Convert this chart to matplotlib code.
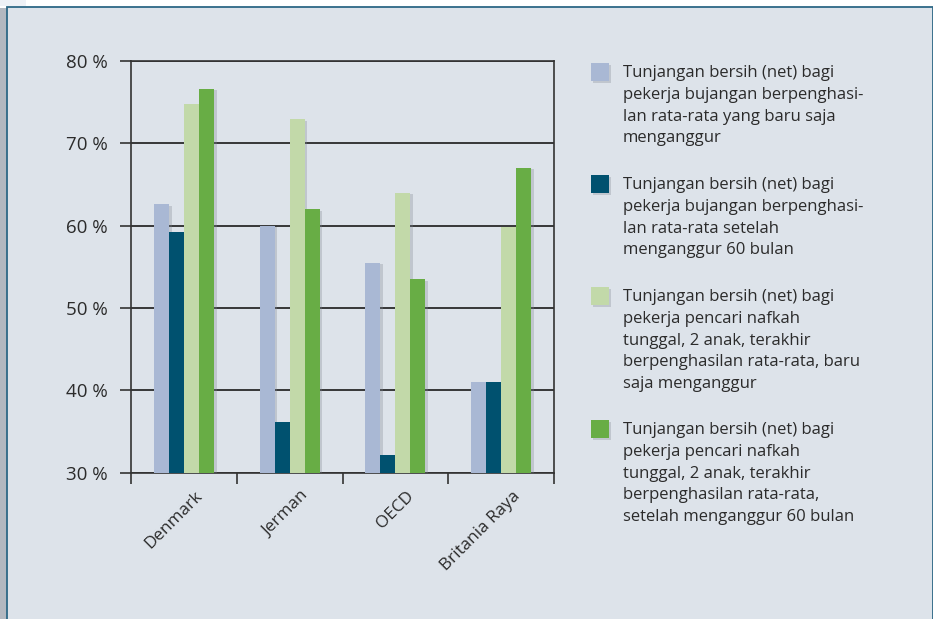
import matplotlib.pyplot as plt
import matplotlib.patches as mpatches
import matplotlib.patheffects as pe
import matplotlib.transforms as mtransforms
import numpy as np

plt.rcParams['font.family'] = ['Open Sans', 'DejaVu Sans']

# data
countries = ['Denmark', 'Jerman', 'OECD', 'Britania Raya']
single_new = [62.6, 60.0, 55.5, 41.0]
single_60 = [59.2, 36.2, 32.1, 41.0]
parent_new = [74.8, 72.9, 64.0, 59.9]
parent_60 = [76.6, 62.0, 53.5, 67.0]

series = [single_new, single_60, parent_new, parent_60]
colors = ['#a9b8d4', '#00516f', '#c2d9a9', '#68ad45']
labels = [
    'Tunjangan bersih (net) bagi\npekerja bujangan berpenghasi-\nlan rata-rata yang baru saja\nmenganggur',
    'Tunjangan bersih (net) bagi\npekerja bujangan berpenghasi-\nlan rata-rata setelah\nmenganggur 60 bulan',
    'Tunjangan bersih (net) bagi\npekerja pencari nafkah\ntunggal, 2 anak, terakhir\nberpenghasilan rata-rata, baru\nsaja menganggur',
    'Tunjangan bersih (net) bagi\npekerja pencari nafkah\ntunggal, 2 anak, terakhir\nberpenghasilan rata-rata,\nsetelah menganggur 60 bulan',
]
yticks = [30, 40, 50, 60, 70, 80]

W, H = 933, 619
fig = plt.figure(figsize=(W / 100, H / 100), dpi=100)
fig.patch.set_facecolor('white')

# panel background + left shadow
fig.patches.append(mpatches.Rectangle((0, 0), 7 / W, (H - 8) / H, transform=fig.transFigure,
                                      facecolor='#b3b8c0', edgecolor='none', zorder=0))
fig.patches.append(mpatches.Rectangle((0, (H - 6) / H), 26 / W, 6 / H, transform=fig.transFigure,
                                      facecolor='#eef1f6', edgecolor='none', zorder=0))
fig.patches.append(mpatches.Rectangle((7.5 / W, -0.01), 1 - 8 / W, (H - 6.5) / H + 0.01,
                                      transform=fig.transFigure, facecolor='#dde3ea',
                                      edgecolor='#2d6886', linewidth=1.3, zorder=0))

ax = fig.add_axes([131 / W, 146.3 / H, 423 / W, 411.7 / H])
ax.set_facecolor('none')
ax.set_zorder(2)

x = np.arange(len(countries))
bw = 0.142
shadow = [pe.SimplePatchShadow(offset=(2, -1), shadow_rgbFace='#7d8590', alpha=0.3), pe.Normal()]
for i, (vals, c) in enumerate(zip(series, colors)):
    bars = ax.bar(x + (i - 1.5) * bw, np.array(vals) - 30, bw, bottom=30, color=c, zorder=3 + i * 0.01)
    for b in bars:
        b.set_path_effects(shadow)

ax.set_xlim(-0.5, len(countries) - 0.5)
ax.set_ylim(30, 80)
ax.set_yticks(yticks)
ax.set_yticklabels([f'{v} %' for v in yticks], fontsize=13.5, color='#2b2b2b')
ax.yaxis.grid(True, color='#1a1a1a', linewidth=1.2, zorder=1)
ax.set_axisbelow(True)
ax.tick_params(axis='y', length=8, width=1.2, color='#333333', pad=9)

ax.set_xticks(x)
ax.set_xticklabels(countries, fontsize=12.3, rotation=45, ha='right', va='top',
                   rotation_mode='anchor', color='#2b2b2b')
ax.tick_params(axis='x', which='major', length=0, pad=11)
offset = mtransforms.ScaledTranslation(11 / 100, 0, fig.dpi_scale_trans)
for lbl in ax.get_xticklabels():
    lbl.set_transform(lbl.get_transform() + offset)
ax.set_xticks(np.arange(len(countries) + 1) - 0.5, minor=True)
ax.tick_params(axis='x', which='minor', length=8, width=1.2, color='#333333')

for s in ax.spines.values():
    s.set_color('#333333')
    s.set_linewidth(1.2)

# legend drawn by hand
tops = [68, 180, 292, 425]
sq_shadow = [pe.SimplePatchShadow(offset=(1.5, -1.5), shadow_rgbFace='#7d8590', alpha=0.3), pe.Normal()]
for top, c, lab in zip(tops, colors, labels):
    r = mpatches.Rectangle((591 / W, 1 - (top - 5 + 18) / H), 18 / W, 18 / H,
                           transform=fig.transFigure, facecolor=c, edgecolor='none', zorder=3)
    r.set_path_effects(sq_shadow)
    fig.patches.append(r)
    fig.text(623 / W, 1 - (top - 3) / H, lab, fontsize=12, va='top', ha='left',
             linespacing=1.48, color='#2b2b2b')

fig.savefig('out.png', dpi=100)
